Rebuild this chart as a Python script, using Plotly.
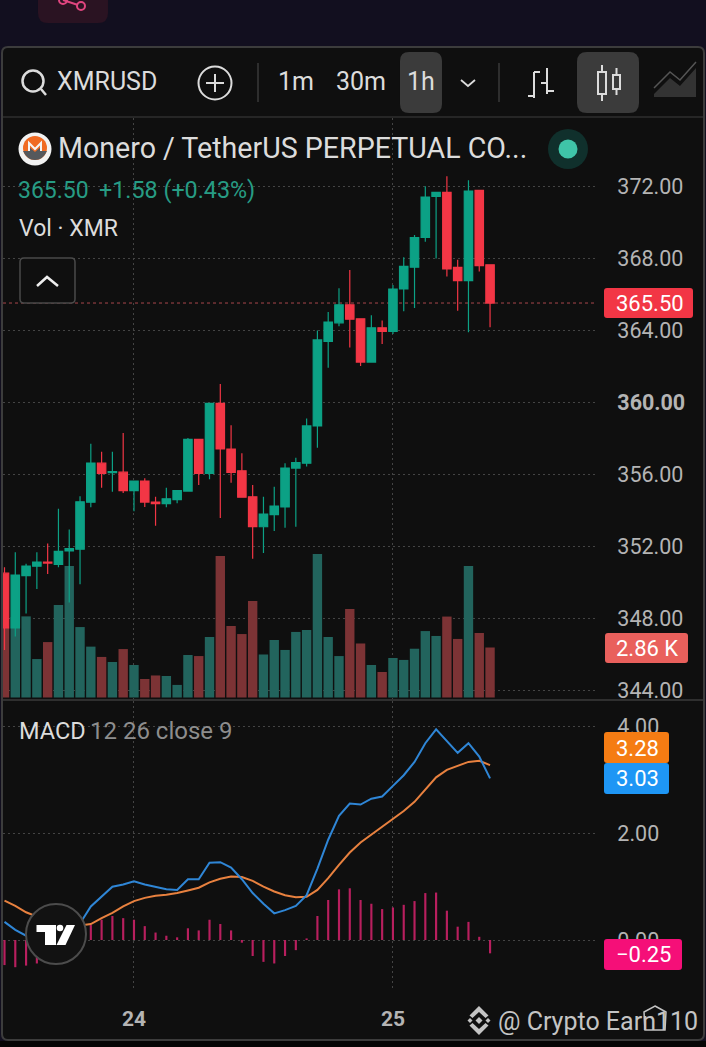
# %% XMRUSD 1h candles with volume and MACD, dark mobile layout

import plotly.graph_objects as go

# %% Data

hours = list(range(46))
day_ticks = [12, 36]
day_labels = ["24", "25"]

opens = [350.49, 347.45, 350.36, 350.88, 351.10, 350.98, 351.73, 351.82, 354.43, 356.60,
         356.07, 356.10, 355.08, 355.61, 354.44, 354.35, 354.58, 355.05, 357.92, 356.03,
         359.93, 357.39, 356.18, 354.73, 353.07, 353.74, 354.17, 356.33, 356.60, 358.67,
         363.37, 364.40, 365.40, 364.62, 362.22, 364.12, 363.92, 366.28, 367.49, 369.14,
         371.43, 371.65, 367.48, 366.74, 371.76, 367.62]
closes = [347.45, 350.39, 350.88, 351.11, 351.05, 351.71, 351.86, 354.46, 356.60, 356.03,
          356.14, 355.08, 355.61, 354.44, 354.35, 354.62, 355.08, 357.92, 356.03, 359.93,
          357.39, 356.09, 354.71, 353.07, 353.77, 354.22, 356.33, 356.64, 358.67, 363.45,
          364.44, 365.40, 364.60, 362.22, 364.12, 363.92, 366.28, 367.54, 369.14, 371.39,
          371.65, 367.40, 366.74, 371.72, 367.58, 365.50]
highs = [350.82, 351.66, 351.02, 351.66, 352.14, 354.07, 352.92, 354.77, 357.68, 357.24,
         357.24, 358.28, 355.61, 355.76, 354.73, 355.23, 355.08, 358.00, 357.92, 359.93,
         361.00, 358.71, 357.15, 355.39, 354.73, 355.29, 356.60, 356.90, 359.09, 363.97,
         365.00, 366.32, 367.33, 364.62, 364.82, 364.53, 366.50, 368.04, 369.28, 371.99,
         371.65, 372.55, 367.91, 372.32, 371.76, 367.62]
lows = [346.22, 346.97, 348.25, 349.61, 350.45, 350.82, 348.86, 349.88, 354.15, 355.23,
        355.01, 354.95, 353.93, 354.17, 353.12, 354.15, 354.37, 355.05, 355.39, 355.71,
        353.55, 355.52, 354.68, 351.29, 351.61, 352.83, 353.02, 353.07, 356.42, 357.46,
        361.91, 364.21, 363.03, 362.00, 362.22, 363.22, 363.78, 365.04, 365.22, 368.90,
        367.97, 366.98, 365.07, 363.88, 367.25, 364.16]
volumes_k = [3.98, 4.60, 4.64, 2.20, 3.17, 5.29, 7.52, 4.03, 2.91, 2.32,
             2.03, 2.77, 1.86, 1.06, 1.26, 1.23, 0.72, 2.43, 2.37, 3.46,
             8.09, 4.09, 3.63, 5.52, 2.46, 3.29, 2.72, 3.75, 3.86, 8.21,
             3.46, 2.37, 5.06, 3.09, 1.86, 1.46, 2.26, 2.15, 2.79, 3.80,
             3.52, 4.63, 3.35, 7.52, 3.69, 2.86]

macd_line = [0.34, 0.19, 0.08, 0.06, 0.02, 0.00, 0.12, 0.31, 0.63, 0.81,
             1.00, 1.04, 1.10, 1.04, 0.99, 0.95, 0.94, 1.14, 1.14, 1.45,
             1.46, 1.36, 1.14, 0.88, 0.68, 0.50, 0.56, 0.64, 0.84, 1.34,
             1.88, 2.33, 2.56, 2.54, 2.65, 2.69, 2.89, 3.09, 3.34, 3.69,
             3.95, 3.74, 3.51, 3.69, 3.44, 3.03]
signal_line = [0.74, 0.64, 0.52, 0.44, 0.36, 0.31, 0.30, 0.27, 0.30, 0.41,
               0.51, 0.63, 0.73, 0.79, 0.83, 0.85, 0.88, 0.93, 0.98, 1.08,
               1.15, 1.19, 1.18, 1.11, 1.00, 0.91, 0.84, 0.80, 0.81, 0.94,
               1.16, 1.41, 1.64, 1.83, 1.98, 2.13, 2.27, 2.42, 2.59, 2.81,
               3.05, 3.19, 3.26, 3.34, 3.36, 3.28]
macd_hist = [-0.47, -0.51, -0.48, -0.44, -0.30, -0.12, 0.10, 0.20, 0.28, 0.38,
             0.45, 0.41, 0.38, 0.26, 0.14, 0.08, 0.05, 0.22, 0.18, 0.38,
             0.30, 0.18, -0.05, -0.30, -0.41, -0.44, -0.30, -0.19, 0.03, 0.45,
             0.75, 0.95, 0.97, 0.75, 0.68, 0.58, 0.61, 0.66, 0.73, 0.88,
             0.89, 0.55, 0.25, 0.34, 0.06, -0.25]

price_ticks = [344, 348, 352, 356, 360, 364, 368, 372]
macd_ticks = [0, 2, 4]

# %% Colours and page geometry

W, H = 706, 1047
green = "#0ca185"
red = "#f23645"
green_vol = "#22645d"
red_vol = "#7c3335"
panel = "#0f0f0f"
grid = "#444444"
grid_dash = "2px,3px"
tick_grey = "#b4b4b4"
text_grey = "#dcdcdc"


def px(x):
    return x / W


def py(y):
    return 1 - y / H


def rounded(x0, y0, x1, y1, r):
    return (f"M{x0+r},{y0} L{x1-r},{y0} Q{x1},{y0} {x1},{y0+r} L{x1},{y1-r} Q{x1},{y1} {x1-r},{y1} "
            f"L{x0+r},{y1} Q{x0},{y1} {x0},{y1-r} L{x0},{y0+r} Q{x0},{y0} {x0+r},{y0} Z")


shapes = []
annotations = []


# shapes and labels are placed in page pixels, converted to paper space
def to_paper(path):
    out = []
    for part in path.split():
        cmd = part[0] if part[0].isalpha() else ""
        nums = part[1:] if cmd else part
        if nums == "":
            out.append(cmd)
            continue
        x, y = nums.split(",")
        out.append(f"{cmd}{px(float(x)):.5f},{py(float(y)):.5f}")
    return " ".join(out)


def add_path(path, fill=None, line=None, width=1.5, layer="above"):
    shapes.append(dict(type="path", xref="paper", yref="paper", path=to_paper(path), layer=layer,
                       fillcolor=fill if fill else "rgba(0,0,0,0)",
                       line=dict(color=line if line else "rgba(0,0,0,0)", width=width if line else 0)))


def add_circle(cx, cy, r, fill=None, line=None, width=1.5, layer="above"):
    shapes.append(dict(type="circle", xref="paper", yref="paper", layer=layer,
                       x0=px(cx - r), x1=px(cx + r), y0=py(cy + r), y1=py(cy - r),
                       fillcolor=fill if fill else "rgba(0,0,0,0)",
                       line=dict(color=line if line else "rgba(0,0,0,0)", width=width if line else 0)))


def add_text(x, y, text, size, color, anchor="left", family="Roboto"):
    # annotation boxes carry a little padding on the left
    x_pos = x - 1.5 if anchor == "left" else x
    annotations.append(dict(xref="paper", yref="paper", x=px(x_pos), y=py(y), text=text, showarrow=False,
                            xanchor=anchor, yanchor="middle", borderpad=0, align=anchor,
                            font=dict(family=family, size=size, color=color)))


# %% Figure frame

add_path(rounded(2, 47, 704, 1040, 6), fill=panel, line="#3c3c3c", width=2, layer="below")
add_path("M0,1041 L706,1041 L706,1047 L0,1047 Z", fill="#060606", layer="below")
add_path("M3,117 L703,117", line="#2f2f2f", width=1.5, layer="below")
add_path("M3,700 L703,700", line="#2f2f2f", width=2, layer="below")

# notification tab at the top
add_path(rounded(38, -20, 108, 23, 10), fill="#2a1322", layer="below")
add_path("M63,0 L78,5", line="#e0457f", width=2)
add_circle(81, 6, 4, line="#e0457f", width=2)
add_circle(63, 0, 4, line="#e0457f", width=2)

# %% Toolbar

add_circle(33, 81, 10.5, line=text_grey, width=2.5)
add_path("M41,89 L46,95", line=text_grey, width=2.5)
add_text(57, 82, "XMRUSD", 25, text_grey)
add_circle(215, 83, 16.5, line=text_grey, width=2)
add_path("M215,74 L215,92", line=text_grey, width=2)
add_path("M206,83 L224,83", line=text_grey, width=2)
add_path("M258,63 L258,102", line="#3a3a3a", width=1.5)
add_text(296, 82, "1m", 25, text_grey, "center")
add_text(361, 82, "30m", 25, text_grey, "center")
add_path(rounded(400, 52, 442, 113, 9), fill="#3b3b3b")
add_text(421, 82, "1h", 25, text_grey, "center")
add_path("M461,80 L468,86 L475,80", line=text_grey, width=1.8)
add_path("M499,63 L499,102", line="#3a3a3a", width=1.5)

# bar and candle chart buttons
add_path("M534,72 L534,98", line=text_grey, width=2)
add_path("M534,72 L540,72", line=text_grey, width=2)
add_path("M528,96 L534,96", line=text_grey, width=2)
add_path("M547,68 L547,94", line=text_grey, width=2)
add_path("M541,83 L547,83", line=text_grey, width=2)
add_path("M547,91 L554,91", line=text_grey, width=2)
add_path(rounded(577, 52, 639, 113, 10), fill="#3b3b3b")
add_path("M598,72 L606,72 L606,94 L598,94 Z", line=text_grey, width=2)
add_path("M602,65 L602,72", line=text_grey, width=2)
add_path("M602,94 L602,101", line=text_grey, width=2)
add_path("M613,75 L620,75 L620,89 L613,89 Z", line=text_grey, width=2)
add_path("M616.5,68 L616.5,75", line=text_grey, width=2)
add_path("M616.5,89 L616.5,95", line=text_grey, width=2)
# area chart button, hatched
add_path("M654,94 L670,78 L680,86 L696,68 L696,97 L654,97 Z", fill="#333333")
add_path("M654,88 L670,72 L680,80 L696,62", line="#555555", width=1.5)

# %% Legend block

add_circle(35, 149, 16.5, fill="#f2f2f2")
add_circle(35, 148, 12, fill="#f06a22")
add_path("M23,151 L28,151 L28,146 L35,152 L42,146 L42,151 L47,151 Q43,160 35,160 Q27,160 23,151 Z", fill="#55585c")
add_path("M29,151 L29,143 L35,149 L41,143 L41,151", line="#f4f4f4", width=2)
add_text(58, 148, "Monero / TetherUS PERPETUAL CO...", 28.6, text_grey)
add_circle(568, 149, 20, fill="#10302c")
add_circle(568, 149, 9.5, fill="#3fc4a8")
add_text(18, 190, "365.50", 23, "#279c84")
add_text(99, 190, "+1.58 (+0.43%)", 23.3, "#279c84")
add_text(19, 229, "Vol · XMR", 23, text_grey)
add_path(rounded(20, 258, 75, 303, 4), fill=panel, line="#4a4a4a", width=1.5)
add_path("M37,286 L47,277 L58,286", line="#eeeeee", width=2.5)
add_text(19, 731, "MACD", 23.5, text_grey)
add_text(90, 731, "12 26 close 9", 24, "#8d8d8d")

# %% Axis value tags

add_path(rounded(604, 288, 693, 318, 3), fill="#f23645")
add_text(650, 303, "365.50", 22, "#ffffff", "center")
add_path(rounded(605, 633, 688, 663, 3), fill="#e9605c")
add_text(647, 648, "2.86 K", 22, "#ffffff", "center")
add_path(rounded(604, 732, 669, 763, 3), fill="#f57c13")
add_text(637, 748, "3.28", 22, "#ffffff", "center")
add_path(rounded(604, 763, 669, 794, 3), fill="#1e96f5")
add_text(637, 778, "3.03", 22, "#ffffff", "center")
add_path(rounded(604, 939, 682, 970, 3), fill="#f50f78")
add_text(643, 954, "\u22120.25", 22, "#ffffff", "center")

# %% TradingView badge and watermark

add_circle(56, 934, 30, fill="#121212", line="#4c4c4c", width=2)
add_path("M36.5,925 L56,925 L56,945 L45,945 L45,932 L36.5,932 Z", fill="#ffffff")
add_circle(60, 928, 3.3, fill="#ffffff")
add_path("M66.5,925 L75,925 L65.5,945 L56.5,945 Z", fill="#ffffff")

wm = "#c4c4c4"
add_path("M479,1006 L488.5,1015.5 L485.5,1018 L479,1012 L472.5,1018 L469.5,1015.5 Z", fill=wm)
add_path("M479,1035 L488.5,1025.5 L485.5,1023 L479,1029 L472.5,1023 L469.5,1025.5 Z", fill=wm)
add_path("M470,1018 L472.5,1020.5 L470,1023 L467.5,1020.5 Z", fill=wm)
add_path("M488,1018 L490.5,1020.5 L488,1023 L485.5,1020.5 Z", fill=wm)
add_path("M479,1017 L482.5,1020.5 L479,1024 L475.5,1020.5 Z", fill=wm)
add_text(498, 1021, "@ Crypto Earn110", 25, wm)
add_path("M655,1006 L666,1012 L665,1030 L645,1030 L644,1012 Z", line=wm, width=1.5)

# %% Chart traces

vol_colors = [green_vol if c >= o else red_vol for o, c in zip(opens, closes)]

fig = go.Figure()
fig.add_trace(go.Bar(
    x=hours, y=volumes_k, marker=dict(color=vol_colors, line=dict(width=0)),
    width=0.87, xaxis="x", yaxis="y",
))
fig.add_trace(go.Candlestick(
    x=hours, open=opens, high=highs, low=lows, close=closes,
    increasing=dict(line=dict(color=green, width=1.2), fillcolor=green),
    decreasing=dict(line=dict(color=red, width=1.2), fillcolor=red),
    whiskerwidth=0, xaxis="x", yaxis="y2",
))
fig.add_trace(go.Bar(
    x=hours, y=macd_hist, marker=dict(color="#b81f5e", line=dict(width=0)),
    width=0.2, xaxis="x", yaxis="y3",
))
fig.add_trace(go.Scatter(
    x=hours, y=signal_line, mode="lines", line=dict(color="#e8813f", width=2),
    xaxis="x", yaxis="y3",
))
fig.add_trace(go.Scatter(
    x=hours, y=macd_line, mode="lines", line=dict(color="#2f86d6", width=2),
    xaxis="x", yaxis="y3",
))

# last price line
shapes.append(dict(type="line", xref="paper", yref="y2", x0=px(3), x1=px(595),
                   y0=closes[-1], y1=closes[-1], layer="below",
                   line=dict(color="#a8474c", width=1, dash="dot")))

x_left = (3 - 4.5) / 10.79
x_right = (595 - 4.5) / 10.79

fig.update_layout(
    width=W,
    height=H,
    margin=dict(l=0, r=0, t=0, b=0),
    paper_bgcolor="#120f1f",
    plot_bgcolor="rgba(0,0,0,0)",
    showlegend=False,
    hovermode=False,
    dragmode=False,
    boxgap=0.22,
    boxgroupgap=0,
    shapes=shapes,
    annotations=annotations,
    font=dict(family="Roboto", color=tick_grey),
    xaxis=dict(
        domain=[px(3), px(595)], range=[x_left, x_right], anchor="y3", automargin=False,
        tickmode="array", tickvals=day_ticks, ticktext=[f"<b>{t}</b>" for t in day_labels],
        tickfont=dict(size=21, color=tick_grey),
        ticks="outside", ticklen=10, tickcolor="rgba(0,0,0,0)",
        showgrid=True, gridcolor=grid, griddash=grid_dash, gridwidth=1,
        zeroline=False, showline=False, rangeslider=dict(visible=False),
    ),
    yaxis=dict(
        domain=[py(699), py(118)], range=[-0.086, 33.15], automargin=False,
        showgrid=False, zeroline=False, showticklabels=False, ticks="",
    ),
    yaxis2=dict(
        overlaying="y", side="right", anchor="x", range=[343.5, 375.78], automargin=False,
        tickmode="array", tickvals=price_ticks,
        ticktext=[f"<b>{t:.2f}</b>" if t == 360 else f"{t:.2f}" for t in price_ticks],
        tickfont=dict(size=21.5, color=tick_grey),
        ticks="outside", ticklen=17, tickcolor="rgba(0,0,0,0)",
        showgrid=True, gridcolor=grid, griddash=grid_dash, gridwidth=1,
        zeroline=False, showline=False,
    ),
    yaxis3=dict(
        domain=[py(990), py(701)], range=[-0.9375, 4.482], side="right", anchor="x", automargin=False,
        tickmode="array", tickvals=macd_ticks, ticktext=[f"{t:.2f}" for t in macd_ticks],
        tickfont=dict(size=21.5, color=tick_grey),
        ticks="outside", ticklen=17, tickcolor="rgba(0,0,0,0)",
        showgrid=True, gridcolor=grid, griddash=grid_dash, gridwidth=1,
        zeroline=False, showline=False,
    ),
)

fig.write_html(
    "out.html",
    config={"displayModeBar": False, "staticPlot": True},
    post_script="document.body.style.margin='0';document.body.style.overflow='hidden';",
)
